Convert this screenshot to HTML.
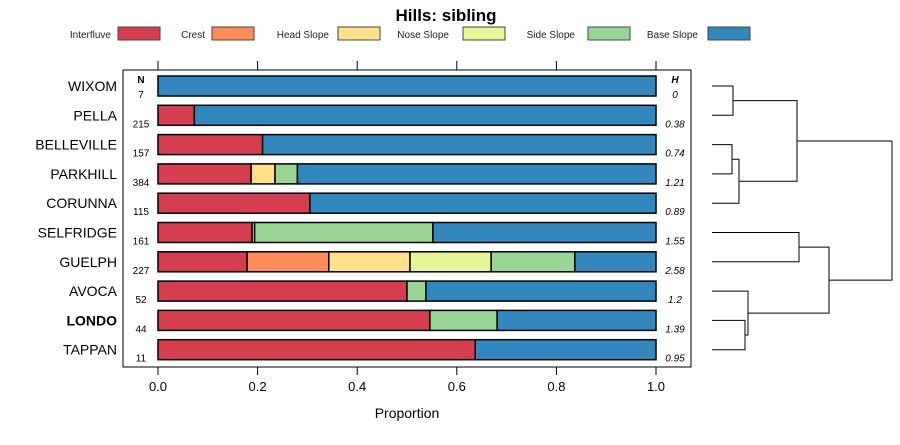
<!DOCTYPE html>
<html><head><meta charset="utf-8"><style>
body{margin:0;background:#fff}
svg text{font-family:"Liberation Sans",sans-serif}
</style></head><body>
<svg id="c" width="900" height="440" xmlns="http://www.w3.org/2000/svg">
<text x="446" y="21" font-size="17" font-weight="bold" text-anchor="middle">Hills: sibling</text>
<g id="legend"></g>
<rect x="123" y="70" width="568" height="297" fill="none" stroke="#000"/>
<text x="141" y="83" font-size="10" font-weight="bold" text-anchor="middle">N</text>
<text x="675" y="83" font-size="10" font-weight="bold" font-style="italic" text-anchor="middle">H</text>
<g id="bars"></g>
<g id="axes"></g>
<text x="407" y="418" font-size="14" text-anchor="middle">Proportion</text>
<g id="dendro" stroke="#000" fill="none" stroke-width="1"></g>
</svg>
<script>
const categories=["Interfluve","Crest","Head Slope","Nose Slope","Side Slope","Base Slope"];
const colors=["#D53E4F","#FC8D59","#FEE08B","#E6F598","#99D594","#3288BD"];
const sites=["WIXOM","PELLA","BELLEVILLE","PARKHILL","CORUNNA","SELFRIDGE","GUELPH","AVOCA","LONDO","TAPPAN"];
const nValues=[7,215,157,384,115,161,227,52,44,11];
const hValues=["0","0.38","0.74","1.21","0.89","1.55","2.58","1.2","1.39","0.95"];
const interfluve=[0,0.073,0.21,0.187,0.305,0.189,0.179,0.5,0.546,0.637];
const crest=[0,0,0,0,0,0,0.164,0,0,0];
const headSlope=[0,0,0,0.048,0,0.005,0.163,0,0,0];
const noseSlope=[0,0,0,0,0,0,0.163,0,0,0];
const sideSlope=[0,0,0,0.045,0,0.358,0.168,0.038,0.135,0];
const baseSlope=[1,0.927,0.79,0.72,0.695,0.448,0.163,0.462,0.319,0.363];
const ticks=[0,0.2,0.4,0.6,0.8,1.0];
const tickLabels=["0.0","0.2","0.4","0.6","0.8","1.0"];
const NS="http://www.w3.org/2000/svg";
const xs=v=>158+v*498;
const ys=i=>86+i*29.3;
function mk(tag,attrs,parent,txt){const e=document.createElementNS(NS,tag);for(const k in attrs)e.setAttribute(k,attrs[k]);if(txt!==undefined)e.textContent=txt;parent.appendChild(e);return e;}
// legend
const lg=document.getElementById('legend');
const lgX=[[111,118],[205,212],[329,338],[449,463],[575,588],[698,708]];
categories.forEach((c,i)=>{
 const t=mk('text',{x:lgX[i][0],y:38,'font-size':10,'text-anchor':'end',fill:'#222'},lg,c);
 
 
 const r=mk('rect',{x:lgX[i][1],y:27,width:42,height:13,fill:colors[i],stroke:'#444'},lg);
 
 
});
// bars
const series=[interfluve,crest,headSlope,noseSlope,sideSlope,baseSlope];
const bg=document.getElementById('bars');
sites.forEach((s,i)=>{
 const y=ys(i);
 const lab=mk('text',{x:117,y:y+5,'font-size':14,'text-anchor':'end','font-weight':s==='LONDO'?'bold':'normal'},bg,s);
 
 
 const nt=mk('text',{x:141,y:y+12,'font-size':10,'text-anchor':'middle'},bg,String(nValues[i]));
 
 
 const ht=mk('text',{x:675,y:y+12,'font-size':10,'font-style':'italic','text-anchor':'middle'},bg,hValues[i]);
 
 
 let cum=0;
 series.forEach((arr,k)=>{
  const v=arr[i]; if(v<=0){return;}
  const r=mk('rect',{x:xs(cum),y:y-10,width:xs(cum+v)-xs(cum),height:20,fill:colors[k],stroke:'#000','stroke-width':1.5},bg);
  
  
  cum+=v;
 });
});
// axes
const ax=document.getElementById('axes');
ticks.forEach((t,i)=>{
 mk('line',{x1:xs(t),x2:xs(t),y1:61,y2:70,stroke:'#000'},ax);
 mk('line',{x1:xs(t),x2:xs(t),y1:367,y2:375,stroke:'#000'},ax);
 const tl=mk('text',{x:xs(t),y:391,'font-size':13,'text-anchor':'middle'},ax,tickLabels[i]);
 
 
});
// dendrogram
const dg=document.getElementById('dendro');
function link(y1,y2,x1a,x1b,xm){mk('path',{d:`M${x1a},${y1}H${xm}V${y2}H${x1b}`},dg);}
const L=712;
link(ys(0),ys(1),L,L,733);
link(ys(2),ys(3),L,L,732);
const bp=(ys(2)+ys(3))/2;
link(bp,ys(4),732,L,739);
const wp=(ys(0)+ys(1))/2, bpc=(bp+ys(4))/2;
link(wp,bpc,733,739,797);
link(ys(5),ys(6),L,L,799);
link(ys(8),ys(9),L,L,745);
const lt=(ys(8)+ys(9))/2;
link(ys(7),lt,L,745,748);
const sg=(ys(5)+ys(6))/2, alt=(ys(7)+lt)/2;
link(sg,alt,799,748,829);
link((wp+bpc)/2,(sg+alt)/2,797,829,892);
</script>
</body></html>
